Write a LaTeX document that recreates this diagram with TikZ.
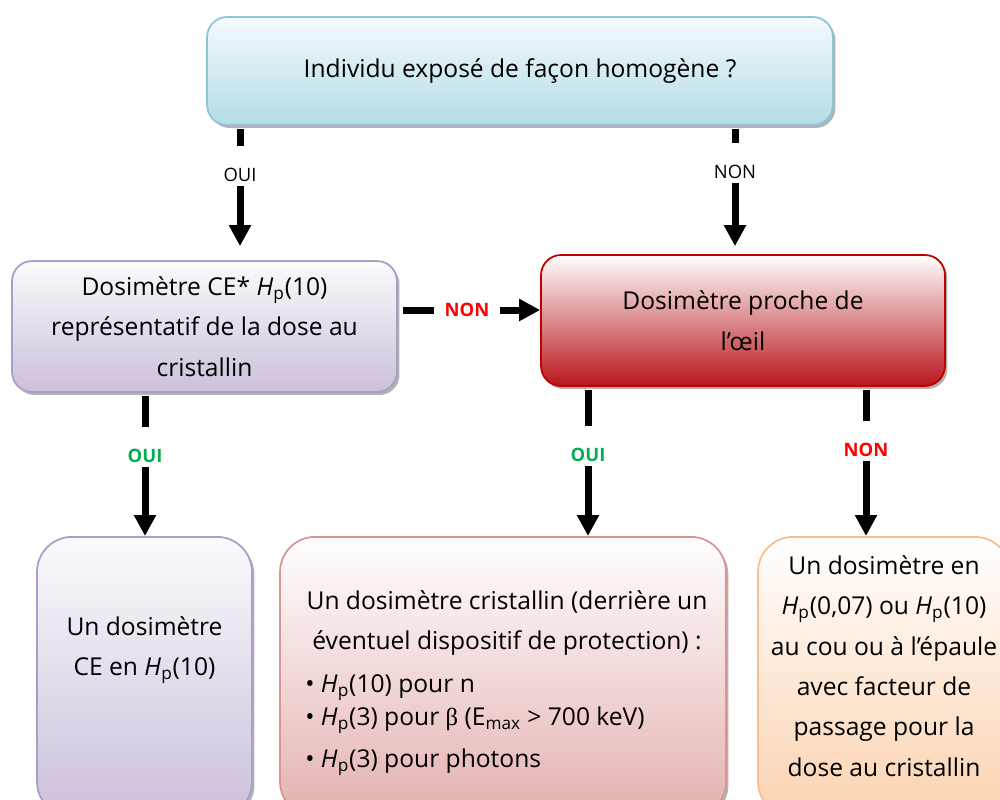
\documentclass[tikz,border=0pt]{standalone}
\usepackage{fontspec}
\setmainfont{Open Sans}
\newfontfamily\greekserif{Liberation Serif}
\usetikzlibrary{arrows.meta,shadows}

\definecolor{cyanframe}{HTML}{8CC7D7}
\definecolor{cyanlow}{HTML}{B4DCE6}
\definecolor{cyantop}{HTML}{F4FAFC}
\definecolor{lilacframe}{HTML}{AC9CC8}
\definecolor{lilaclow}{HTML}{CCC0DA}
\definecolor{lilactop}{HTML}{FBFAFC}
\definecolor{redframe}{HTML}{C00000}
\definecolor{redlow}{HTML}{B8161C}
\definecolor{roseframe}{HTML}{D99594}
\definecolor{roselow}{HTML}{E4B1B0}
\definecolor{peachframe}{HTML}{F9BE8E}
\definecolor{peachlow}{HTML}{FBD2B0}
\definecolor{ouigreen}{HTML}{00B050}
\definecolor{nonred}{HTML}{FF0000}

\newcommand{\Hp}{\textit{H}\textsubscript{p}}

\tikzset{
  box/.style={draw, line width=1pt, rounded corners=0.4cm, align=center,
    font=\fontsize{14}{23}\selectfont,
    drop shadow={shadow xshift=0.05cm, shadow yshift=-0.06cm, fill=black!50, opacity=0.6}},
  tallbox/.style={box, rounded corners=0.7cm, anchor=north, minimum height=5.6cm},
  cyanbox/.style={draw=cyanframe, top color=cyantop, bottom color=cyanlow},
  lilacbox/.style={draw=lilacframe, top color=lilactop, bottom color=lilaclow},
  redbox/.style={draw=redframe, top color=white, bottom color=redlow},
  rosebox/.style={draw=roseframe, top color=white, bottom color=roselow},
  peachbox/.style={draw=peachframe, top color=white, bottom color=peachlow},
  boxtext/.style={align=center, font=\fontsize{14}{23}\selectfont},
  answer/.style={inner sep=0pt, font=\fontsize{10.5}{12}\selectfont},
  flowline/.style={line width=0.14cm},
  toanswer/.style={flowline, shorten <=0.06cm, shorten >=0.44cm},
  fromanswer/.style={flowline, -{Triangle[width=0.42cm,length=0.42cm]}, shorten <=0.07cm},
}

\begin{document}
\begin{tikzpicture}[x=0.02cm, y=-0.02cm]
  \useasboundingbox (0,0) rectangle (1000,799);

  % Question
  \node[box, cyanbox, minimum width=12.52cm, minimum height=2.16cm] (expose) at (520,71)
    {Individu exposé de façon homogène ?};

  % Second row
  \node[box, lilacbox, minimum width=7.7cm, minimum height=2.62cm] (ce) at (204.5,326.5)
    {Dosimètre CE* \Hp(10)\\représentatif de la dose au\\cristallin};
  \node[box, redbox, minimum width=8.08cm, minimum height=2.62cm] (oeil) at (743,320.5)
    {Dosimètre proche de\\l’œil};

  % Bottom row
  \node[tallbox, lilacbox, minimum width=4.3cm] (ceen) at (144.5,536) {};
  \node[boxtext] (ceentext) at (144.5,650) {Un dosimètre\\CE en \Hp(10)};

  \node[tallbox, rosebox, minimum width=8.92cm] (cristal) at (503,536) {};
  \node[boxtext] (cristaltext) at (507,623)
    {Un dosimètre cristallin (derrière un\\éventuel dispositif de protection) :};
  \node[boxtext, align=left, anchor=north west, inner sep=0pt] (cristallist) at (305,674)
    {\textbullet\ \Hp(10) pour n\\[-4pt]
     \textbullet\ \Hp(3) pour {\greekserif β} (E\textsubscript{max} > 700 keV)\\[1pt]
     \textbullet\ \Hp(3) pour photons};

  \node[tallbox, peachbox, minimum width=5.04cm] (epaule) at (884,536) {};
  \node[boxtext] (epauletext) at (884,666)
    {Un dosimètre en\\\Hp(0,07) ou \Hp(10)\\au cou ou à l’épaule\\avec facteur de\\passage pour la\\dose au cristallin};

  % Answers
  \node[answer] (ouiA) at (240,175) {OUI};
  \node[answer] (nonA) at (735,172) {NON};
  \node[answer, nonred, font=\fontsize{10.5}{12}\selectfont\bfseries] (nonB) at (467,310) {NON};
  \node[answer, ouigreen, font=\fontsize{10.5}{12}\selectfont\bfseries] (ouiB) at (145,456) {OUI};
  \node[answer, ouigreen, font=\fontsize{10.5}{12}\selectfont\bfseries] (ouiC) at (588,455) {OUI};
  \node[answer, nonred, font=\fontsize{10.5}{12}\selectfont\bfseries] (nonC) at (866,450) {NON};

  % Connectors
  \draw[toanswer] (expose.south -| ouiA) -- (ouiA.north);
  \draw[fromanswer, shorten >=0.28cm] (ouiA.south) -- (ce.north -| ouiA);
  \draw[toanswer] (expose.south -| nonA) -- (nonA.north);
  \draw[fromanswer, shorten >=0.16cm] (nonA.south) -- (oeil.north -| nonA);

  \draw[flowline, shorten <=0.1cm, shorten >=0.2cm] (ce.east |- nonB) -- (nonB.west);
  \draw[fromanswer, shorten <=0.2cm] (nonB.east) -- (oeil.west |- nonB);

  \draw[toanswer] (ce.south -| ouiB) -- (ouiB.north);
  \draw[fromanswer] (ouiB.south) -- (ceen.north -| ouiB);
  \draw[toanswer] (oeil.south -| ouiC) -- (ouiC.north);
  \draw[fromanswer] (ouiC.south) -- (cristal.north -| ouiC);
  \draw[toanswer] (oeil.south -| nonC) -- (nonC.north);
  \draw[fromanswer] (nonC.south) -- (epaule.north -| nonC);
\end{tikzpicture}
\end{document}
